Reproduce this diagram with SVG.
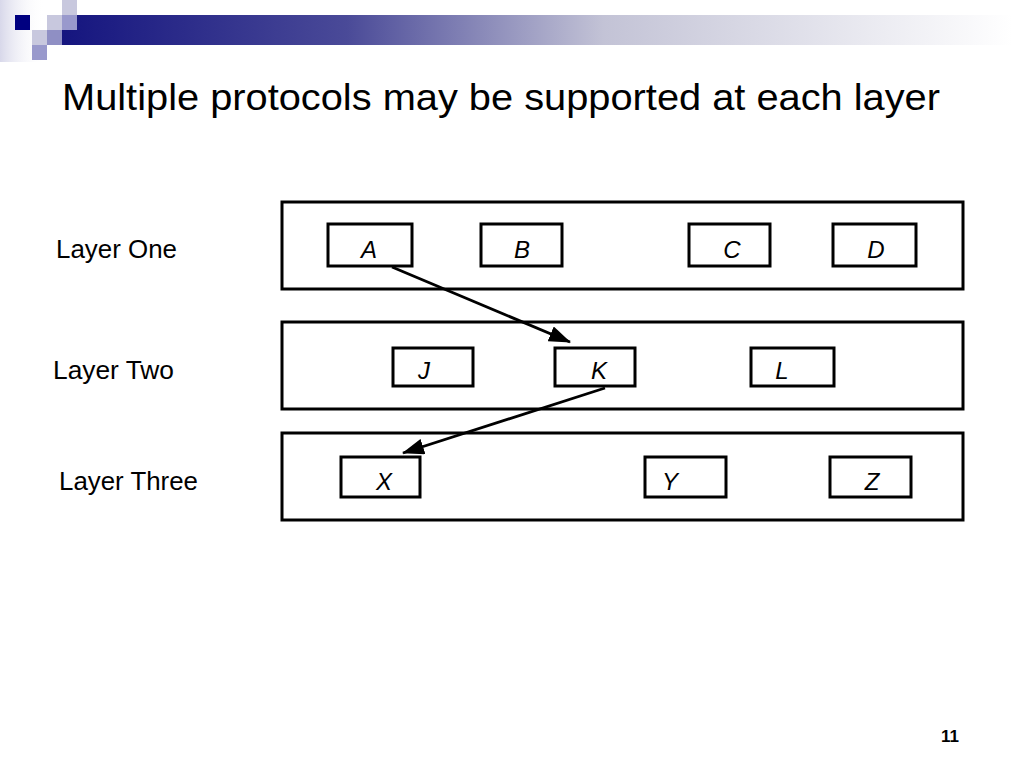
<svg xmlns="http://www.w3.org/2000/svg" width="1024" height="768" viewBox="0 0 1024 768">
<defs>
<linearGradient id="bar" x1="62" y1="0" x2="1012" y2="0" gradientUnits="userSpaceOnUse">
<stop offset="0" stop-color="#15157f"/>
<stop offset="0.3" stop-color="#4a4a98"/>
<stop offset="0.57" stop-color="#c3c3d6"/>
<stop offset="1" stop-color="#ffffff"/>
</linearGradient>
<linearGradient id="side" x1="0" y1="0" x2="1" y2="0">
<stop offset="0" stop-color="#d8d8ea"/>
<stop offset="1" stop-color="#ffffff" stop-opacity="0"/>
</linearGradient>
<marker id="ah" markerWidth="22" markerHeight="16" refX="21" refY="8" orient="auto" markerUnits="userSpaceOnUse">
<path d="M0,0 L22,8 L0,16 Z" fill="#000"/>
</marker>
<style>
.layer{fill:#fff;stroke:#000;stroke-width:3}
.proto{fill:#fff;stroke:#000;stroke-width:3}
.lbl{font-family:"Liberation Sans",Arial,sans-serif;font-size:25px;fill:#000}
.pl{font-family:"Liberation Sans",Arial,sans-serif;font-size:24px;font-style:italic;fill:#000;text-anchor:middle}
.conn{stroke:#000;stroke-width:2.8;fill:none;marker-end:url(#ah)}
</style>
</defs>
<rect width="1024" height="768" fill="#fff"/>
<g id="decor">
<rect x="0" y="0" width="45" height="62" fill="url(#side)"/>
<rect x="62" y="15" width="950" height="30" fill="url(#bar)"/>
<rect x="15" y="15" width="15" height="15" fill="#000080"/>
<rect x="47" y="15" width="15" height="15" fill="#c8c8de"/>
<rect x="62" y="0" width="15" height="15" fill="#c8c8de"/>
<rect x="62" y="15" width="15" height="15" fill="#9999cc"/>
<rect x="32" y="30" width="15" height="15" fill="#c8c8de"/>
<rect x="47" y="30" width="15" height="15" fill="#8f8fc4"/>
<rect x="32" y="45" width="15" height="15" fill="#9999cc"/>
</g>
<text x="62" y="110" font-family="'Liberation Sans',Arial,sans-serif" font-size="37" fill="#000" textLength="878" lengthAdjust="spacingAndGlyphs">Multiple protocols may be supported at each layer</text>
<g id="layer-one">
<rect class="layer" x="282" y="202" width="681" height="87"/>
<text class="lbl" x="56" y="258" textLength="121" lengthAdjust="spacingAndGlyphs">Layer One</text>
</g>
<g id="layer-two">
<rect class="layer" x="282" y="322" width="681" height="87"/>
<text class="lbl" x="53" y="379" textLength="121" lengthAdjust="spacingAndGlyphs">Layer Two</text>
</g>
<g id="layer-three">
<rect class="layer" x="282" y="433" width="681" height="87"/>
<text class="lbl" x="59" y="490" textLength="139" lengthAdjust="spacingAndGlyphs">Layer Three</text>
</g>
<g id="A"><rect class="proto" x="328" y="224" width="84" height="42"/><text class="pl" x="369" y="258">A</text></g>
<g id="B"><rect class="proto" x="481" y="224" width="81" height="42"/><text class="pl" x="522" y="258">B</text></g>
<g id="C"><rect class="proto" x="689" y="224" width="81" height="42"/><text class="pl" x="732" y="258">C</text></g>
<g id="D"><rect class="proto" x="833" y="224" width="83" height="42"/><text class="pl" x="876" y="258">D</text></g>
<g id="J"><rect class="proto" x="393" y="348" width="80" height="38"/><text class="pl" x="424" y="379">J</text></g>
<g id="K"><rect class="proto" x="555" y="348" width="80" height="38"/><text class="pl" x="599" y="379">K</text></g>
<g id="L"><rect class="proto" x="751" y="348" width="83" height="38"/><text class="pl" x="782" y="379">L</text></g>
<g id="X"><rect class="proto" x="341" y="457" width="79" height="40"/><text class="pl" x="384" y="490">X</text></g>
<g id="Y"><rect class="proto" x="645" y="457" width="81" height="40"/><text class="pl" x="670" y="490">Y</text></g>
<g id="Z"><rect class="proto" x="830" y="457" width="81" height="40"/><text class="pl" x="872" y="490">Z</text></g>
<g id="connectors">
<line class="conn" x1="392" y1="267" x2="570" y2="342"/>
<line class="conn" x1="605" y1="388" x2="403" y2="453"/>
</g>
<text x="950" y="742" font-family="'Liberation Sans',Arial,sans-serif" font-size="17" font-weight="bold" text-anchor="middle" fill="#000">11</text>
</svg>
